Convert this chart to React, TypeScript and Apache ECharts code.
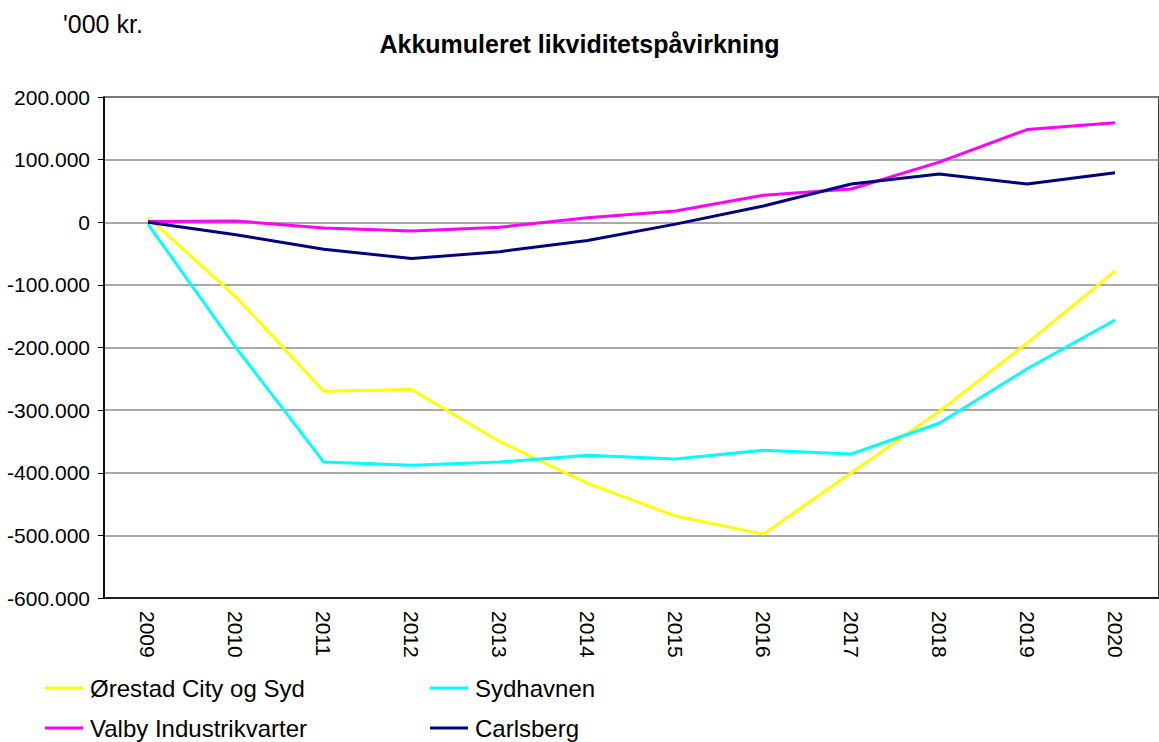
import React, { useEffect, useRef } from "react";
import * as echarts from "echarts";

const years = ["2009", "2010", "2011", "2012", "2013", "2014", "2015", "2016", "2017", "2018", "2019", "2020"];
const orestad = [8000, -119000, -270000, -267000, -350000, -417000, -469000, -498000, -400000, -302000, -193000, -78000];
const sydhavnen = [-3000, -200000, -383000, -388000, -383000, -372000, -378000, -364000, -370000, -321000, -234000, -156000];
const valby = [1000, 2000, -9000, -14000, -8000, 7000, 18000, 43000, 53000, 96000, 148000, 159000];
const carlsberg = [0, -20000, -43000, -58000, -47000, -29000, -3000, 26000, 61000, 77000, 61000, 79000];

const seriesNames = ["Ørestad City og Syd", "Sydhavnen", "Valby Industrikvarter", "Carlsberg"];
const seriesColors = ["#FFFF00", "#00FFFF", "#FF00FF", "#000080"];
const seriesData = [orestad, sydhavnen, valby, carlsberg];

const FONT = "Liberation Sans, Arial, sans-serif";

function fmt(v: number): string {
  const s = Math.abs(v).toString().replace(/\B(?=(\d{3})+(?!\d))/g, ".");
  return (v < 0 ? "-" : "") + s;
}

export default function App() {
  const ref = useRef<HTMLDivElement>(null);
  useEffect(() => {
    if (!ref.current) return;
    const chart = echarts.init(ref.current, undefined, { renderer: "svg" });
    const legendPos = [
      { left: 45, top: 676 },
      { left: 430, top: 676 },
      { left: 45, top: 716 },
      { left: 430, top: 716 },
    ];
    chart.setOption({
      animation: false,
      backgroundColor: "#ffffff",
      title: {
        text: "Akkumuleret likviditetspåvirkning",
        left: "center",
        top: 26,
        textStyle: { fontFamily: FONT, fontSize: 25, fontWeight: "bold", color: "#000" },
      },
      graphic: [
        {
          type: "text",
          left: 63,
          top: 11,
          style: { text: "'000 kr.", font: `25px ${FONT}`, fill: "#000" },
        },
      ],
      legend: seriesNames.map((n, i) => ({
        data: [n],
        left: legendPos[i].left,
        top: legendPos[i].top,
        icon: "rect",
        itemWidth: 38,
        itemHeight: 3,
        itemGap: 0,
        padding: 0,
        textStyle: { fontFamily: FONT, fontSize: 24, color: "#000", padding: [0, 0, 0, 2] },
      })),
      grid: {
        left: 104,
        top: 97,
        width: 1067,
        height: 501,
        show: true,
        borderColor: "#000",
        borderWidth: 1.5,
        containLabel: false,
      },
      xAxis: {
        type: "category",
        data: years,
        boundaryGap: true,
        axisLine: { show: true, onZero: false, lineStyle: { color: "#000", width: 1.5 } },
        axisTick: { show: false },
        axisLabel: {
          rotate: -90,
          margin: 13,
          fontFamily: FONT,
          fontSize: 21,
          color: "#000",
        },
      },
      yAxis: {
        type: "value",
        min: -600000,
        max: 200000,
        interval: 100000,
        axisLine: { show: true, lineStyle: { color: "#000", width: 1.5 } },
        axisTick: { show: true, length: 6, lineStyle: { color: "#000" } },
        splitLine: { show: true, lineStyle: { color: "#8c8c8c", width: 1.5 } },
        axisLabel: {
          margin: 14,
          fontFamily: FONT,
          fontSize: 21,
          color: "#000",
          formatter: (v: number) => fmt(v),
        },
      },
      series: seriesNames.map((n, i) => ({
        name: n,
        type: "line",
        data: seriesData[i],
        symbol: "none",
        color: seriesColors[i],
        lineStyle: { color: seriesColors[i], width: 3 },
        itemStyle: { color: seriesColors[i] },
      })),
    });
    return () => chart.dispose();
  }, []);
  return (
    <div
      ref={ref}
      style={{ position: "absolute", left: 0, top: 0, width: 1159, height: 742 }}
    />
  );
}
